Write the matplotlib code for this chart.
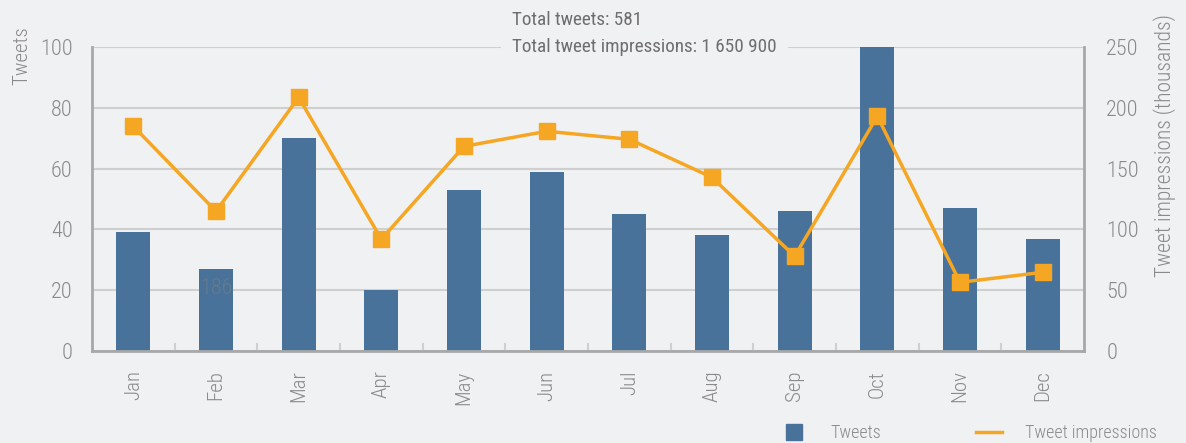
import matplotlib
matplotlib.use("Agg")
import matplotlib.pyplot as plt
from matplotlib.lines import Line2D

months = ['Jan', 'Feb', 'Mar', 'Apr', 'May', 'Jun',
          'Jul', 'Aug', 'Sep', 'Oct', 'Nov', 'Dec']
tweets = [39, 27, 70, 20, 53, 59, 45, 38, 46, 100, 47, 37]
impressions = [184.8, 114.9, 208.6, 91.9, 168.3, 180.7,
               174.1, 142.8, 77.9, 193.0, 56.5, 64.7]  # thousands

bg = '#f0f1f3'
bar_c = '#48729a'
line_c = '#f5a623'
txt_c = '#8a8a8a'

plt.rcParams['font.family'] = ['Roboto Condensed', 'DejaVu Sans Condensed',
                               'Liberation Sans Narrow', 'DejaVu Sans']
plt.rcParams['font.weight'] = 'light'

fig = plt.figure(figsize=(11.86, 4.43), dpi=100, facecolor=bg)
ax = fig.add_axes([92/1186, 92/443, 992/1186, 304/443], facecolor=bg)
x = list(range(len(months)))

ax.bar(x, tweets, width=0.41, color=bar_c, zorder=2)
ax.set_xlim(-0.5, 11.5)
ax.set_ylim(0, 100)
ax.set_yticks([0, 20, 40, 60, 80, 100])
ax.yaxis.grid(True, color='#cfcfcf', lw=1.5, zorder=0)
ax.set_axisbelow(True)
ax.set_xticks(x)
ax.set_xticklabels(months, rotation=90)
ax.set_xticks([i + 0.5 for i in range(11)], minor=True)
ax.tick_params(axis='x', which='major', length=0, pad=14, labelsize=15, labelcolor=txt_c)
ax.tick_params(axis='x', which='minor', direction='in', length=6, width=1.5, color='#cfcfcf')
ax.tick_params(axis='y', length=0, pad=14, labelsize=16, labelcolor=txt_c)
for s in ['left', 'bottom']:
    ax.spines[s].set_color('#a8a8a8')
    ax.spines[s].set_linewidth(2)
ax.spines['top'].set_visible(False)
ax.spines['right'].set_visible(False)

ax.text(1, 20.5, '186', ha='center', va='center', fontsize=16, color='#6a7a88', zorder=3)

# summary text; second line sits over the top gridline, under the bars
ax.text(512/1186, 1 - 20/443, 'Total tweets: 581', transform=fig.transFigure,
        ha='left', va='center', fontsize=13.8, color='#6e6e6e', fontweight='normal',
        clip_on=False)
ax.text(512/1186, 1 - 47/443, 'Total tweet impressions: 1 650 900',
        transform=fig.transFigure, ha='left', va='center', fontsize=13.8,
        color='#6e6e6e', fontweight='normal', zorder=1, clip_on=False,
        bbox=dict(facecolor=bg, edgecolor='none', pad=8))

ax2 = ax.twinx()
ax2.plot(x, impressions, color=line_c, lw=2.5, marker='s', ms=12, zorder=4)
ax2.set_ylim(0, 250)
ax2.set_yticks([0, 50, 100, 150, 200, 250])
ax2.tick_params(axis='y', length=0, pad=16, labelsize=16, labelcolor=txt_c)
for s in ['left', 'bottom', 'top']:
    ax2.spines[s].set_visible(False)
ax2.spines['right'].set_color('#a8a8a8')
ax2.spines['right'].set_linewidth(2)

fig.text(22/1186, 1 - 26/443, 'Tweets', rotation=90, ha='center', va='top',
         fontsize=15, color=txt_c)
fig.text(1165/1186, 1 - 14/443, 'Tweet impressions (thousands)', rotation=90,
         ha='center', va='top', fontsize=15.5, color=txt_c)

handles = [Line2D([], [], marker='s', ls='none', ms=11, color=bar_c),
           Line2D([], [], color=line_c, lw=2.5)]
fig.legend(handles, ['Tweets', 'Tweet impressions'], ncol=2, frameon=False,
           loc='center left', bbox_to_anchor=(765/1186, 10/443),
           fontsize=13, labelcolor=txt_c, columnspacing=5.3, handlelength=1.4,
           handletextpad=1.3)

fig.savefig('out.png', dpi=100, facecolor=bg)
